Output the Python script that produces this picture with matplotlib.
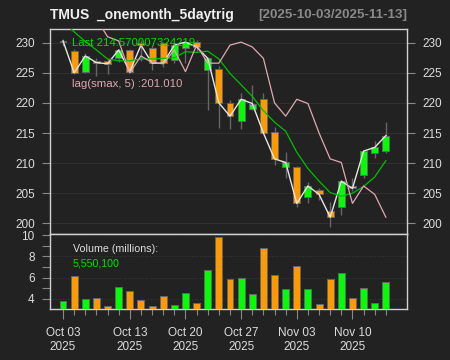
import numpy as np
import matplotlib.pyplot as plt
from matplotlib.ticker import FixedLocator

plt.rcParams['font.family'] = ['Liberation Sans', 'DejaVu Sans']

# trading days shown on the chart
days = ['2025-10-03', '2025-10-06', '2025-10-07', '2025-10-08', '2025-10-09', '2025-10-10',
        '2025-10-13', '2025-10-14', '2025-10-15', '2025-10-16', '2025-10-17',
        '2025-10-20', '2025-10-21', '2025-10-22', '2025-10-23', '2025-10-24',
        '2025-10-27', '2025-10-28', '2025-10-29', '2025-10-30', '2025-10-31',
        '2025-11-03', '2025-11-04', '2025-11-05', '2025-11-06', '2025-11-07',
        '2025-11-10', '2025-11-11', '2025-11-12', '2025-11-13']

open_ = [230.2, 228.6, 225.1, 227.0, 226.9, 227.4, 228.8, 229.9, 229.2, 229.9,
         227.2, 229.1, 230.1, 225.5, 225.7, 220.0, 217.0, 219.0, 220.6, 215.2,
         209.3, 209.3, 204.3, 205.6, 202.1, 202.7, 206.2, 208.1, 211.7, 212.0]
high = [230.6, 229.0, 228.3, 227.4, 227.3, 229.0, 229.0, 230.4, 229.6, 230.2,
        229.8, 230.3, 230.4, 227.7, 226.2, 220.5, 221.7, 223.0, 221.6, 216.0,
        211.9, 209.6, 206.9, 205.9, 203.6, 207.2, 207.5, 212.2, 213.6, 216.9]
low = [229.4, 224.8, 224.9, 224.4, 224.8, 226.8, 224.9, 227.0, 225.5, 225.9,
       226.6, 226.6, 228.7, 218.8, 215.8, 215.6, 215.6, 218.8, 215.0, 209.7,
       207.6, 202.7, 203.3, 203.9, 199.3, 201.4, 205.4, 207.5, 210.8, 211.6]
close = [230.3, 225.0, 227.8, 226.7, 226.5, 228.8, 225.2, 229.6, 226.6, 226.6,
         229.6, 230.1, 229.3, 227.4, 220.0, 217.8, 220.6, 219.9, 215.0, 210.7,
         210.1, 203.3, 206.2, 204.8, 201.01, 207.0, 205.8, 212.0, 212.6, 214.570007324219]

# green moving average line
ma_line = [233.5, 231.8, 230.2, 228.8, 227.3, 227.0, 227.0, 227.3, 227.3, 227.4,
           227.5, 228.5, 228.4, 228.6, 227.3, 224.9, 223.0, 221.1, 218.7, 216.8,
           215.3, 211.8, 209.1, 207.0, 205.1, 204.5, 205.0, 206.1, 207.7, 210.4]
# lag(smax, 5) pink line
smax_lag = [236.0, 236.0, 235.0, 234.0, 231.0, 230.3, 225.0, 227.8, 226.7, 226.5,
            228.8, 225.2, 229.6, 226.6, 226.6, 229.6, 230.1, 229.3, 227.4, 220.0,
            217.8, 220.6, 219.9, 215.0, 210.7, 210.1, 203.3, 206.2, 204.8, 201.01]

volume = [3.78, 6.17, 3.94, 4.06, 3.31, 5.10, 4.72, 3.91, 3.31, 4.22,
          3.43, 4.56, 3.59, 6.67, 9.81, 5.85, 5.95, 4.47, 8.81, 6.23,
          4.94, 7.08, 4.91, 3.47, 5.88, 6.45, 4.06, 5.00, 3.56, 5.5501]

tick_days = ['2025-10-03', '2025-10-13', '2025-10-20', '2025-10-27', '2025-11-03', '2025-11-10']
tick_labels = ['Oct 03\n2025', 'Oct 13\n2025', 'Oct 20\n2025', 'Oct 27\n2025', 'Nov 03\n2025', 'Nov 10\n2025']

BG = '#222222'
UP = '#00ff00'
DN = '#ff9900'
EDGE = '#666666'
FG = '#dddddd'

x = np.arange(len(days))
up = [c >= o for o, c in zip(open_, close)]
colors = [UP if u else DN for u in up]

fig = plt.figure(figsize=(4.5, 3.6), dpi=100, facecolor=BG)
W, H = 450, 360
ax = fig.add_axes([50 / W, 1 - 234 / H, 357 / W, 205 / H], facecolor=BG)
axv = fig.add_axes([50 / W, 1 - 309 / H, 357 / W, 75 / H], facecolor=BG, sharex=ax)

# candles
ax.vlines(x, low, high, color=EDGE, lw=1, zorder=2)
body_lo = [min(o, c) for o, c in zip(open_, close)]
body_h = [max(abs(c - o), 0.08) for o, c in zip(open_, close)]
ax.bar(x, body_h, bottom=body_lo, width=0.62, color=colors, edgecolor=EDGE, lw=0.7, zorder=3)

ax.plot(x, close, color='#e6e6e6', lw=1, zorder=4)
ax.plot(x, ma_line, color='#00c000', lw=0.9, zorder=4)
ax.plot(x, smax_lag, color='#e0a8b0', lw=0.9, zorder=4)

ax.set_xlim(-1.17, 30.9)
ax.set_ylim(198.22, 232.28)
ax.set_yticks(range(200, 231, 5))
ax.grid(axis='y', color='#303030', lw=0.8)
ax.set_axisbelow(True)
ax.tick_params(axis='y', left=True, right=True, labelleft=True, labelright=True,
               colors='#888888', labelcolor=FG, labelsize=8.5, length=6, width=0.8, pad=5)
ax.tick_params(axis='x', bottom=False, labelbottom=False)
for s in ax.spines.values():
    s.set_color('#d0d0d0')
    s.set_linewidth(1)

# volume
axv.bar(x, volume, width=0.62, color=colors, edgecolor=EDGE, lw=0.7, zorder=3)
axv.set_ylim(3.03, 10.12)
axv.set_yticks([4, 6, 8, 10])
axv.yaxis.set_minor_locator(FixedLocator([5, 7, 9]))
axv.grid(axis='y', color='#3a3a3a', lw=0.7, ls=':')
axv.set_axisbelow(True)
axv.tick_params(axis='y', which='both', left=True, right=False, colors='#888888',
                labelcolor=FG, labelsize=8.5, length=6, width=0.8, pad=5)
tick_idx = [days.index(d) for d in tick_days]
axv.set_xticks(tick_idx)
axv.set_xticklabels(tick_labels)
axv.xaxis.set_minor_locator(FixedLocator(list(x)))
axv.tick_params(axis='x', which='major', colors='#888888', labelcolor=FG,
                labelsize=8.5, length=7, width=0.8, pad=6)
axv.tick_params(axis='x', which='minor', colors='#888888', length=4, width=0.8)
for lab in axv.get_xticklabels():
    lab.set_linespacing(1.25)
for s in axv.spines.values():
    s.set_color('#d0d0d0')
    s.set_linewidth(1)

# texts
fig.text(50 / W, 1 - 15 / H, 'TMUS  _onemonth_5daytrig', color='#f0f0f0',
         fontsize=10, fontweight='bold', va='center', ha='left')
fig.text(407 / W, 1 - 15 / H, '[%s/%s]' % (days[0], days[-1]), color='#8a8a8a',
         fontsize=9.6, fontweight='bold', va='center', ha='right')
fig.text(72 / W, 1 - 43 / H, 'Last %s' % repr(close[-1]), color='#00e000',
         fontsize=8.2, va='center', ha='left')
fig.text(72 / W, 1 - 84 / H, 'lag(smax, 5) :%.3f' % smax_lag[-1], color='#e0a8b0',
         fontsize=8.2, va='center', ha='left')
fig.text(73 / W, 1 - 249 / H, 'Volume (millions):', color=FG,
         fontsize=7.7, va='center', ha='left')
fig.text(73 / W, 1 - 263 / H, '{:,}'.format(int(round(volume[-1] * 1e6))), color='#00e000',
         fontsize=7.7, va='center', ha='left')

fig.savefig('out.png', dpi=100, facecolor=BG)
